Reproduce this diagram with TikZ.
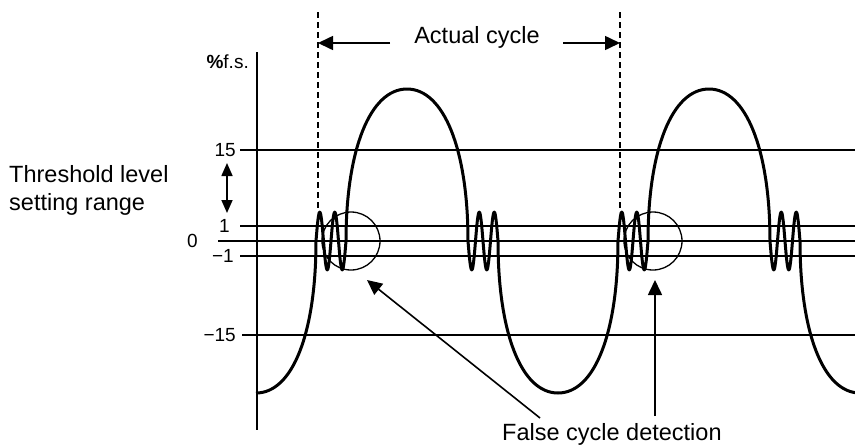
\documentclass[tikz,border=0pt]{standalone}
\usepackage{fontspec}
\setmainfont{Liberation Sans}
\usetikzlibrary{arrows.meta}

\begin{document}
\begin{tikzpicture}[x=1pt, y=-1pt,
  level/.style={line width=1.6pt},
  wave/.style={line width=3pt, line join=round},
  dashline/.style={line width=1.4pt, dash pattern=on 6pt off 4pt},
  tick/.style={anchor=east, inner sep=0pt, font=\fontsize{19}{21}\selectfont},
  txt/.style={inner sep=0pt, font=\fontsize{23.5}{28}\selectfont},
  bigarrow/.style={line width=1.6pt, -{Triangle[length=15pt, width=14pt]}},
  smallarrow/.style={line width=1.6pt, {Triangle[length=13pt, width=11pt]}-{Triangle[length=13pt, width=11pt]}}]
\useasboundingbox (0,0) rectangle (855,445);

% axis and levels
\draw[level] (257,52) -- (257,430);
\draw[level] (240,150) -- (855,150);
\draw[level] (240,226) -- (855,226);
\draw[level] (218,241) -- (855,241);
\draw[level] (240,256) -- (855,256);
\draw[level] (242,335) -- (855,335);

\node (t15) [tick] at (236,150) {15};
\node (t1) [tick] at (230,226) {1};
\node (t0) [tick] at (198,241) {0};
\node (tm1) [tick] at (234,256) {−1};
\node (tm15) [tick] at (236,335) {−15};
\node (unit) [tick] at (249,62) {\textbf{\%}f.s.};

% threshold range
\node (thr1) [txt, anchor=base west] at (9,182) {Threshold level};
\node (thr2) [txt, anchor=base west] at (9,210) {setting range};
\coordinate (ra) at (227,163);
\coordinate (rb) at (227,213);
\draw[smallarrow] (ra) -- (rb);

% actual cycle
\draw[dashline] (318,12) -- (318,212);
\draw[dashline] (620,12) -- (620,212);
\node (cyc) [txt, anchor=base] at (477,43) {Actual cycle};
\coordinate (cl) at (390,43);
\coordinate (dl) at (318,43);
\coordinate (cr) at (563,43);
\coordinate (dr) at (620,43);
\draw[bigarrow] (cl) -- (dl);
\draw[bigarrow] (cr) -- (dr);

% false detections
\node (fc1) [circle, draw, line width=1.3pt, minimum size=58pt, inner sep=0pt] at (351,241) {};
\node (fc2) [circle, draw, line width=1.3pt, minimum size=58pt, inner sep=0pt] at (653,241) {};

% signal
\begin{scope}
\clip (0,0) rectangle (855,445);
\foreach \o in {0,302} {
  \draw[wave, xshift=\o] (256,393) .. controls (293,393) and (316,332) .. (316,241)
    -- plot[domain=316:346, samples=61, smooth] (\x,{241-29*sin(24*(\x-316))})
    .. controls (346,150) and (370,89) .. (407,89)
    .. controls (444,89) and (468,150) .. (468,241)
    -- plot[domain=468:498, samples=61, smooth] (\x,{241+29*sin(24*(\x-468))})
    .. controls (498,332) and (521,393) .. (558,393);
}
\end{scope}

\node (fcd) [txt, anchor=base west] at (502,440) {False cycle detection};
\coordinate (f1) at (540,418);
\coordinate (h1) at (367,280);
\coordinate (f2) at (655,416);
\coordinate (h2) at (655,280);
\draw[bigarrow] (f1) -- (h1);
\draw[bigarrow] (f2) -- (h2);
\end{tikzpicture}
\end{document}
